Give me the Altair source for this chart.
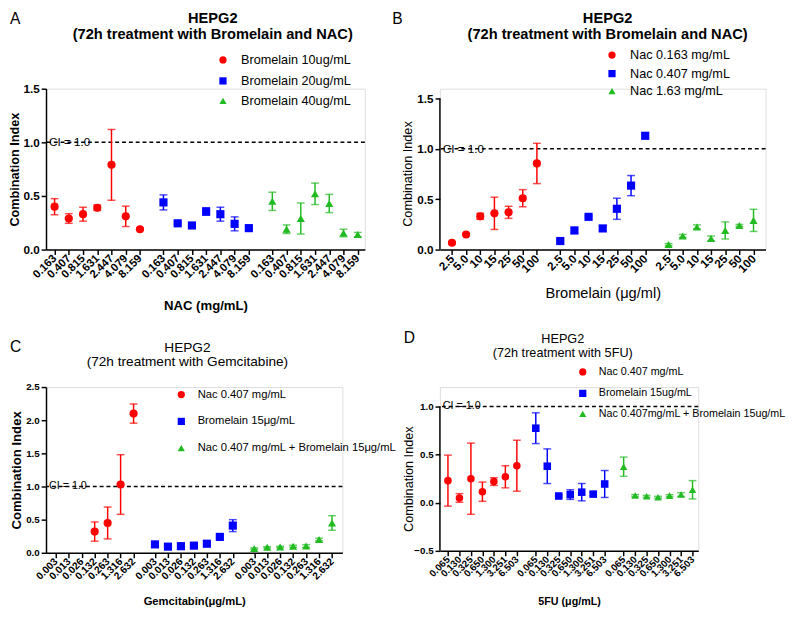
import altair as alt
import pandas as pd

RED, BLUE, GREEN = "#ff0000", "#0000ff", "#22bb22"
COLORS = [RED, BLUE, GREEN]
SHAPES = ["circle", "square", "triangle-up"]
SANS = "Liberation Sans, Arial, sans-serif"

# ---------------- Panel A ----------------
a_ticks = ["0.163", "0.407", "0.815", "1.631", "2.447", "4.079", "8.159"]
a_series = ["Bromelain 10ug/mL", "Bromelain 20ug/mL", "Bromelain 40ug/mL"]
a_mean = [
    [0.40, 0.29, 0.33, 0.39, 0.79, 0.31, 0.19],
    [0.44, 0.245, 0.225, 0.355, 0.33, 0.24, 0.20],
    [0.45, 0.19, 0.29, 0.52, 0.43, 0.155, 0.14],
]
a_err = [
    [0.075, 0.045, 0.065, 0.025, 0.33, 0.095, 0.01],
    [0.07, 0.01, 0.015, 0.035, 0.065, 0.065, 0.01],
    [0.085, 0.04, 0.145, 0.10, 0.085, 0.035, 0.02],
]

# ---------------- Panel B ----------------
b_ticks = ["2.5", "5.0", "10", "15", "25", "50", "100"]
b_series = ["Nac 0.163 mg/mL", "Nac 0.407 mg/mL", "Nac 1.63 mg/mL"]
b_mean = [
    [0.068, 0.15, 0.33, 0.36, 0.37, 0.51, 0.855],
    [0.085, 0.19, 0.325, 0.21, 0.405, 0.635, 1.13],
    [0.05, 0.135, 0.225, 0.11, 0.19, 0.24, 0.29],
]
b_err = [
    [0.01, 0.01, 0.03, 0.16, 0.06, 0.085, 0.20],
    [0.01, 0.03, 0.01, 0.025, 0.105, 0.10, 0.03],
    [0.01, 0.015, 0.02, 0.025, 0.085, 0.01, 0.11],
]

# ---------------- Panel C ----------------
c_ticks = ["0.003", "0.013", "0.026", "0.132", "0.263", "1.316", "2.632"]
c_series = ["Nac 0.407 mg/mL", "Bromelain 15\u03bcg/mL", "Nac 0.407 mg/mL + Bromelain 15\u03bcg/mL"]
c_mean = [
    [None, None, None, 0.32, 0.45, 1.03, 2.10],
    [0.127, 0.093, 0.10, 0.108, 0.137, 0.24, 0.41],
    [0.064, 0.083, 0.088, 0.098, 0.103, 0.20, 0.45],
]
c_err = [
    [None, None, None, 0.145, 0.24, 0.45, 0.145],
    [0.02, 0.01, 0.01, 0.015, 0.02, 0.02, 0.09],
    [0.01, 0.01, 0.01, 0.015, 0.02, 0.02, 0.11],
]

# ---------------- Panel D ----------------
d_ticks = ["0.065", "0.130", "0.325", "0.650", "1.300", "3.251", "6.503"]
d_series = ["Nac 0.407 mg/mL", "Bromelain 15ug/mL", "Nac 0.407mg/mL + Bromelain 15ug/mL"]
d_mean = [
    [0.23, 0.05, 0.25, 0.115, 0.22, 0.27, 0.385],
    [0.775, 0.38, 0.07, 0.085, 0.11, 0.09, 0.195],
    [0.375, 0.075, 0.067, 0.057, 0.074, 0.085, 0.135],
]
d_err = [
    [0.265, 0.045, 0.37, 0.10, 0.04, 0.115, 0.265],
    [0.16, 0.18, 0.01, 0.05, 0.09, 0.02, 0.14],
    [0.10, 0.01, 0.01, 0.01, 0.01, 0.02, 0.095],
]

SLOT = 20
GROUP = 153


def txt(s, x, y, size, weight="normal", align="left"):
    return alt.Chart(pd.DataFrame({"t": [s]})).mark_text(
        align=align, baseline="alphabetic", font=SANS, fontSize=size,
        fontWeight=weight, color="black"
    ).encode(text="t:N", x=alt.value(x), y=alt.value(y))


def panel(p):
    ticks, series, means, errs = p["ticks"], p["series"], p["mean"], p["err"]
    rows = []
    for g, (name, ms, es) in enumerate(zip(series, means, errs)):
        for i, (m, e) in enumerate(zip(ms, es)):
            if m is None:
                continue
            rows.append({"series": name, "pos": g * GROUP + i * SLOT,
                         "ci": m, "lo": m - e, "hi": m + e})
    df = pd.DataFrame(rows)
    tick_pos = [g * GROUP + i * SLOT for g in range(3) for i in range(len(ticks))]
    expr = "[" + ",".join("'%s'" % t for t in ticks) + "][(datum.value %% %d) / %d]" % (GROUP, SLOT)

    xaxis = alt.Axis(values=tick_pos, labelExpr=expr, labelAngle=315, labelAlign="right",
                     labelBaseline="middle", labelFont=SANS, labelFontSize=p["xls"],
                     labelFontWeight="bold", labelPadding=2, labelOverlap=False,
                     labelFlush=False, grid=False, tickSize=5, tickWidth=1.5,
                     domainWidth=1.5, domainColor="black", tickColor="black",
                     labelColor="black", titleColor="black",
                     titleFont=SANS, titleFontSize=p["xts"], titleFontWeight=p["xtw"],
                     titleY=p["xty"], titleBaseline="top")
    yaxis = alt.Axis(values=p["yticks"], format=".1f", labelFont=SANS, labelFontSize=p["yls"],
                     labelFontWeight="bold", labelPadding=2, grid=False, tickSize=5,
                     tickWidth=1.5, domain=p.get("ydomainline", True), domainWidth=1.5,
                     domainColor="black", tickColor="black", labelColor="black",
                     titleColor="black", titleFont=SANS, titleFontSize=p["yts"],
                     titleFontWeight=p["ytw"], titleX=p["ytx"], titleY=p["yty"],
                     titleBaseline="bottom", minExtent=0)
    xs = alt.Scale(domain=p["xdom"], nice=False, zero=False)
    ys = alt.Scale(domain=p["ydom"], nice=False, zero=False)

    def xe(f):
        return alt.X(f, type="quantitative", scale=xs, axis=xaxis, title=p["xtitle"])

    def ye(f):
        return alt.Y(f, type="quantitative", scale=ys, axis=yaxis, title="Combination Index")

    leg = alt.Legend(orient="none", legendX=p["lx"], legendY=p["ly"], title=None,
                     labelFont=SANS, labelFontSize=p["legsize"], labelColor="black",
                     labelLimit=600, symbolSize=55, symbolOpacity=1,
                     rowPadding=p["rowpad"], labelOffset=p["loff"], padding=0)
    color = alt.Color("series:N", scale=alt.Scale(domain=series, range=COLORS), legend=leg)
    shape = alt.Shape("series:N", scale=alt.Scale(domain=series, range=SHAPES), legend=leg)

    layers = []
    ci_df = pd.DataFrame({"x": [p["xdom"][0]], "y": [1.0], "t": ["CI = 1.0"]})
    layers.append(alt.Chart(ci_df).mark_text(align="left", baseline="middle", dx=3,
                                             font=SANS, fontSize=p["cis"], color="black")
                  .encode(x=xe("x"), y=ye("y"), text="t:N"))
    layers.append(alt.Chart(pd.DataFrame({"y": [1.0]})).mark_rule(
        strokeDash=[4, 3], strokeWidth=1.5, color="black").encode(y=ye("y")))
    if not p.get("ydomainline", True):
        layers.append(alt.Chart(pd.DataFrame({"a": [p["yticks"][0]], "b": [p["yticks"][-1]]}))
                      .mark_rule(color="black", strokeWidth=1.5)
                      .encode(x=alt.value(0), y=ye("a"), y2="b:Q"))
    for g, name in enumerate(series):
        sub = df[df["series"] == name]
        layers.append(alt.Chart(sub).mark_errorbar(ticks={"size": 8}, thickness=1.5,
                                                   color=COLORS[g])
                      .encode(x=xe("pos"), y=ye("lo"), y2="hi:Q"))
    layers.append(alt.Chart(df).mark_point(filled=True, size=p.get("msize", 70), opacity=1)
                  .encode(x=xe("pos"), y=ye("ci"), color=color, shape=shape))
    for t in p["texts"]:
        layers.append(txt(*t))
    return alt.layer(*layers).properties(width=p["w"], height=p["h"])


A = panel(dict(
    ticks=a_ticks, series=a_series, mean=a_mean, err=a_err, w=327, h=165,
    xdom=[-12, 436], ydom=[0, 1.5], yticks=[0, 0.5, 1.0, 1.5],
    xls=11.5, xtitle="NAC (mg/mL)", xts=13.5, xtw="bold", xty=50,
    yls=12, yts=13, ytw="bold", ytx=-25, yty=82.5, cis=12,
    lx=175, ly=-36, legsize=13, rowpad=6.5, loff=12,
    texts=[("A", -37, -66, 16), ("HEPG2", 171, -67, 15, "bold", "center"),
           ("(72h treatment with Bromelain and NAC)", 171, -51, 15, "bold", "center")],
))

B = panel(dict(
    ticks=b_ticks, series=b_series, mean=b_mean, err=b_err, w=334, h=165,
    xdom=[-17, 443], ydom=[0, 1.5 * 165 / 155], yticks=[0, 0.5, 1.0, 1.5], ydomainline=False,
    xls=12, xtitle="Bromelain (\u03bcg/ml)", xts=15, xtw="normal", xty=37,
    yls=12, yts=13, ytw="normal", ytx=-26, yty=87, cis=12,
    lx=170, ly=-41, legsize=13, rowpad=4, loff=12,
    texts=[("B", -49, -66, 16), ("HEPG2", 172, -67, 15, "bold", "center"),
           ("(72h treatment with Bromelain and NAC)", 172, -51, 15, "bold", "center")],
))

C = panel(dict(
    ticks=c_ticks, series=c_series, mean=c_mean, err=c_err, w=304, h=170,
    xdom=[-15, 442], ydom=[0, 2.5], yticks=[0, 0.5, 1.0, 1.5, 2.0, 2.5],
    xls=10.5, xtitle="Gemcitabin(\u03bcg/mL)", xts=11.5, xtw="bold", xty=44,
    yls=10, yts=13.5, ytw="bold", ytx=-23, yty=85, cis=11,
    lx=133, ly=2, legsize=11.5, rowpad=13.5, loff=11,
    texts=[("C", -37, -36, 16), ("HEPG2", 145, -36, 14, "normal", "center"),
           ("(72h treatment with Gemcitabine)", 145, -22, 14, "normal", "center")],
))

D = panel(dict(
    ticks=d_ticks, series=d_series, mean=d_mean, err=d_err, w=265, h=168,
    xdom=[-14, 436], ydom=[-0.5, 1.0 + 1.5 * 20 / 148], yticks=[-0.5, 0.0, 0.5, 1.0],
    ydomainline=False, msize=60,
    xls=10, xtitle="5FU (\u03bcg/mL)", xts=11, xtw="bold", xty=46,
    yls=10, yts=13, ytw="normal", ytx=-25, yty=94, cis=11,
    lx=141, ly=-21, legsize=11, rowpad=7, loff=11,
    texts=[("D", -37, -45, 16), ("HEPG2", 126, -45, 13, "normal", "center"),
           ("(72h treatment with 5FU)", 126, -31, 13, "normal", "center")],
))

chart = alt.concat(A, B, C, D, columns=2, spacing={"row": 141, "column": 77},
                   bounds="flush").resolve_scale(
    x="independent", y="independent", color="independent", shape="independent"
).resolve_legend(color="independent", shape="independent").properties(
    padding={"left": 0, "top": -5, "right": 0, "bottom": 0}
).configure_view(stroke=None).configure(background="white")

chart.save("out.html", embed_options={"renderer": "svg", "actions": False})
